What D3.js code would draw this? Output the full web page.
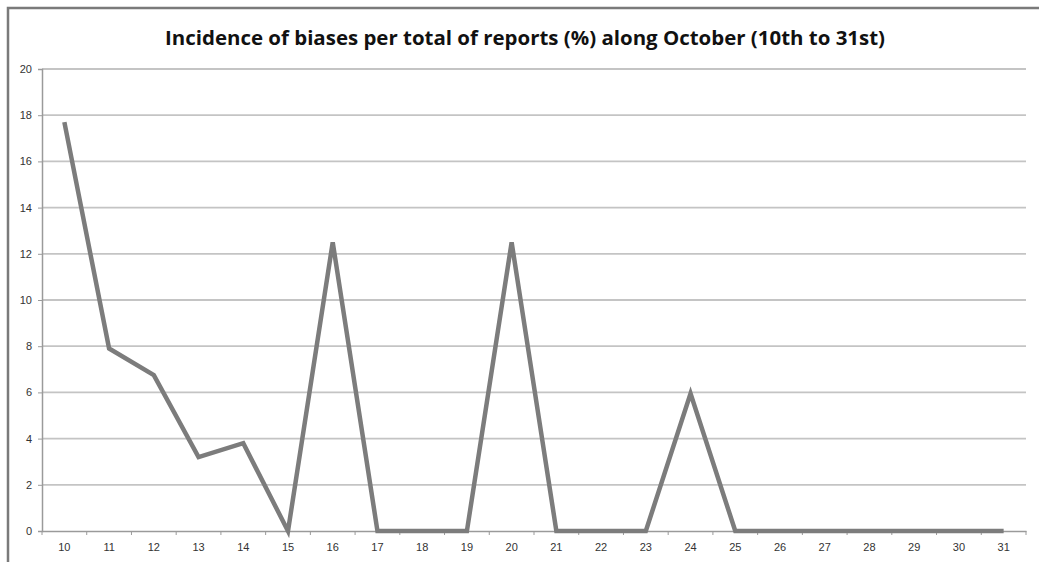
<!DOCTYPE html>
<html><head><meta charset="utf-8">
<script src="https://cdn.jsdelivr.net/npm/d3@7"></script>
<style>body{margin:0;background:#fff}svg{display:block}</style>
</head><body>
<svg id="c" width="1039" height="562"></svg>
<script>
const days = ["10","11","12","13","14","15","16","17","18","19","20","21","22","23","24","25","26","27","28","29","30","31"];
const values = [17.7,7.9,6.75,3.2,3.8,0,12.5,0,0,0,12.5,0,0,0,5.95,0,0,0,0,0,0,0];
const yTicks = [0,2,4,6,8,10,12,14,16,18,20];
const title = "Incidence of biases per total of reports (%) along October (10th to 31st)";

(function(){
const svg = d3.select("#c");
const mL = 42, mR = 1026, mT = 69, mB = 531;
const x = d3.scaleBand().domain(days).range([mL, mR]);
const y = d3.scaleLinear().domain([0,20]).range([mB, mT]);

// frame
svg.append("path").attr("d","M8,562 V8 H1039").attr("fill","none").attr("stroke","#7a7a7a").attr("stroke-width",2.5);

// title
svg.append("text").attr("x",525).attr("y",45).attr("text-anchor","middle")
  .attr("font-family","'Open Sans', sans-serif").attr("font-weight","bold").attr("font-size",19)
  .attr("fill","#111").attr("textLength",720).attr("lengthAdjust","spacingAndGlyphs").text(title);

// gridlines
svg.append("g").selectAll("line").data(yTicks.filter(d=>d>0)).join("line")
  .attr("x1",mL).attr("x2",mR).attr("y1",d=>y(d)).attr("y2",d=>y(d))
  .attr("stroke","#c4c4c4").attr("stroke-width",1.8);

// y axis
const ya = svg.append("g").attr("transform",`translate(${mL},0)`)
  .call(d3.axisLeft(y).tickValues(yTicks).tickSize(4).tickPadding(6));
ya.select(".domain").attr("stroke","#9a9a9a").attr("stroke-width",1.5);
ya.selectAll(".tick line").attr("stroke","#9a9a9a");
ya.selectAll("text").attr("font-family","'Liberation Sans', sans-serif").attr("font-size",11).attr("fill","#333");

// x axis
const xa = svg.append("g").attr("transform",`translate(0,${mB})`)
  .call(d3.axisBottom(x).tickSize(0).tickPadding(12));
xa.select(".domain").attr("stroke","#9a9a9a").attr("stroke-width",1.5);
xa.selectAll("text").attr("font-family","'Liberation Sans', sans-serif").attr("font-size",11).attr("fill","#333");
const bounds = days.map(d=>x(d)).concat([mR]);
xa.append("g").selectAll("line").data(bounds).join("line")
  .attr("x1",d=>d).attr("x2",d=>d).attr("y1",0).attr("y2",4).attr("stroke","#9a9a9a");

// line
const line = d3.line().x((d,i)=>x(days[i])+x.bandwidth()/2).y(d=>y(d));
svg.append("path").datum(values).attr("d",line).attr("fill","none")
  .attr("stroke","#7c7c7c").attr("stroke-width",4.5).attr("stroke-linejoin","miter");
})();
</script>
</body></html>
